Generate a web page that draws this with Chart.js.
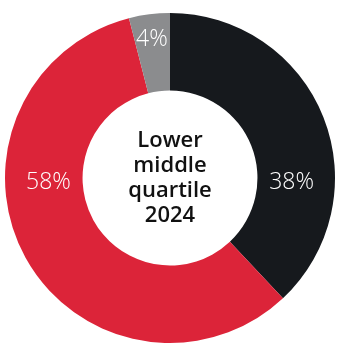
<!DOCTYPE html>
<html>
<head>
<meta charset="utf-8">
<script src="https://cdn.jsdelivr.net/npm/chart.js@4/dist/chart.umd.min.js"></script>
<style>
  html, body { margin: 0; padding: 0; background: #fff; }
  #wrap { width: 337px; height: 350px; position: relative; }
</style>
</head>
<body>
<div id="wrap"><canvas id="chart"></canvas></div>
<script>
const categories = ['Group A', 'Group B', 'Group C']
const shares = [38, 58, 4]
const sliceColors = ['#16191d', '#dc2439', '#8b8c8e']
const centerLines = ['Lower', 'middle', 'quartile', '2024']

// percentage labels inside the ring; big slices keep their label level with the centre,
// thin slices push the label outward where the slice is wider
const sliceLabels = {
  id: 'sliceLabels',
  afterDatasetsDraw(chart) {
    const ctx = chart.ctx
    const meta = chart.getDatasetMeta(0)
    ctx.save()
    ctx.font = '300 23px "Open Sans", sans-serif'
    ctx.fillStyle = '#ffffff'
    ctx.textAlign = 'center'
    ctx.textBaseline = 'middle'
    meta.data.forEach((arc, i) => {
      const { x, y, startAngle, endAngle, innerRadius, outerRadius } = arc.getProps(
        ['x', 'y', 'startAngle', 'endAngle', 'innerRadius', 'outerRadius'], true)
      let a = (startAngle + endAngle) / 2
      const k = Math.round(a / Math.PI) * Math.PI
      if (k > startAngle + 0.3 && k < endAngle - 0.3) a = k
      const f = (endAngle - startAngle) < 0.5 ? 0.73 : 0.44
      const r = innerRadius + (outerRadius - innerRadius) * f
      ctx.fillText(shares[i] + '%', x + Math.cos(a) * r, y + Math.sin(a) * r + 4)
    })
    ctx.restore()
  }
}

const centerText = {
  id: 'centerText',
  afterDraw(chart) {
    const ctx = chart.ctx
    const arc = chart.getDatasetMeta(0).data[0]
    const lh = 25
    ctx.save()
    ctx.font = '600 22px "Open Sans", sans-serif'
    ctx.fillStyle = '#111111'
    ctx.textAlign = 'center'
    ctx.textBaseline = 'middle'
    const top = arc.y - lh * (centerLines.length - 1) / 2
    centerLines.forEach((t, i) => ctx.fillText(t, arc.x, top + i * lh))
    ctx.restore()
  }
}

new Chart(document.getElementById('chart'), {
  type: 'doughnut',
  data: {
    labels: categories,
    datasets: [{
      data: shares,
      backgroundColor: sliceColors,
      borderWidth: 0,
    }]
  },
  options: {
    responsive: true,
    maintainAspectRatio: false,
    animation: false,
    cutout: '53%',
    layout: { padding: { left: 5, right: 2, top: 13, bottom: 7 } },
    plugins: {
      legend: { display: false },
      tooltip: { enabled: false },
    }
  },
  plugins: [sliceLabels, centerText]
})
</script>
</body>
</html>
